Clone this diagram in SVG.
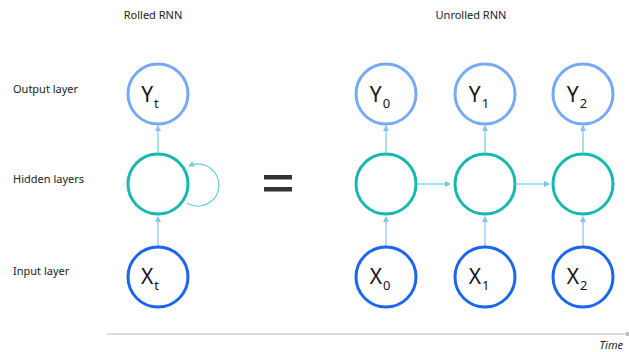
<svg xmlns="http://www.w3.org/2000/svg" width="629" height="352" viewBox="0 0 629 352">
  <style>
    .lbl { font-family: "Noto Sans", "Open Sans", sans-serif; font-size: 11px; fill: #222; }
    .sym { font-family: "Noto Sans", "Open Sans", sans-serif; font-size: 21px; fill: #161616; }
    .sub { font-size: 13px; }
    .out { fill: #fff; stroke: #78a9f4; stroke-width: 3; }
    .hid { fill: #fff; stroke: #16b8b0; stroke-width: 3; }
    .inp { fill: #fff; stroke: #1b66f0; stroke-width: 3; }
    .up1 { stroke: #8cc0f2; stroke-width: 1.2; fill: none; }
    .up2 { stroke: #6ccbdc; stroke-width: 1.2; fill: none; }
    .rt { stroke: #6ccbdc; stroke-width: 1.2; fill: none; }
  </style>
  <defs>
    <marker id="ahB" viewBox="0 0 6 6" refX="5" refY="3" markerWidth="6" markerHeight="6" orient="auto" markerUnits="userSpaceOnUse">
      <path d="M0,0 L6,3 L0,6 z" fill="#8cc0f2"/>
    </marker>
    <marker id="ahT" viewBox="0 0 6 6" refX="5" refY="3" markerWidth="6" markerHeight="6" orient="auto" markerUnits="userSpaceOnUse">
      <path d="M0,0 L6,3 L0,6 z" fill="#6ccbdc"/>
    </marker>
  </defs>

  <!-- headings and row labels -->
  <text class="lbl" x="153" y="19" text-anchor="middle">Rolled RNN</text>
  <text class="lbl" x="471" y="19" text-anchor="middle">Unrolled RNN</text>
  <text class="lbl" x="13" y="93">Output layer</text>
  <text class="lbl" x="13" y="183">Hidden layers</text>
  <text class="lbl" x="13" y="275">Input layer</text>

  <!-- connectors -->
  <g id="connectors">
    <line class="up1" x1="158" y1="246" x2="158" y2="217" marker-end="url(#ahB)"/>
    <line class="up2" x1="158" y1="152" x2="158" y2="126" marker-end="url(#ahB)"/>
    <!-- recurrent self-loop on the rolled hidden unit -->
    <path class="rt" d="M187,203 A21,21 0 1 0 189,166" marker-end="url(#ahT)"/>

    <line class="up1" x1="386" y1="246" x2="386" y2="217" marker-end="url(#ahB)"/>
    <line class="up1" x1="485" y1="246" x2="485" y2="217" marker-end="url(#ahB)"/>
    <line class="up1" x1="583" y1="246" x2="583" y2="217" marker-end="url(#ahB)"/>

    <line class="up2" x1="386" y1="152" x2="386" y2="126" marker-end="url(#ahB)"/>
    <line class="up2" x1="485" y1="152" x2="485" y2="126" marker-end="url(#ahB)"/>
    <line class="up2" x1="583" y1="152" x2="583" y2="126" marker-end="url(#ahB)"/>

    <line class="rt" x1="418" y1="184" x2="450" y2="184" marker-end="url(#ahT)"/>
    <line class="rt" x1="517" y1="184" x2="549" y2="184" marker-end="url(#ahT)"/>
  </g>

  <!-- rolled network -->
  <g id="y_t"><circle class="out" cx="158" cy="94" r="30"/><text class="sym" x="150" y="102" text-anchor="middle">Y<tspan class="sub" dx="1" dy="6">t</tspan></text></g>
  <g id="h_t"><circle class="hid" cx="158" cy="184" r="30"/></g>
  <g id="x_t"><circle class="inp" cx="158" cy="277" r="30"/><text class="sym" x="150" y="284" text-anchor="middle">X<tspan class="sub" dx="1" dy="6">t</tspan></text></g>

  <!-- equals sign -->
  <g id="equals" fill="#333">
    <rect x="264" y="175" width="28" height="4.5"/>
    <rect x="264" y="187" width="28" height="4.5"/>
  </g>

  <!-- unrolled network -->
  <g id="y0"><circle class="out" cx="386" cy="94" r="30"/><text class="sym" x="380" y="102" text-anchor="middle">Y<tspan class="sub" dx="1" dy="6">0</tspan></text></g>
  <g id="y1"><circle class="out" cx="485" cy="94" r="30"/><text class="sym" x="479" y="102" text-anchor="middle">Y<tspan class="sub" dx="1" dy="6">1</tspan></text></g>
  <g id="y2"><circle class="out" cx="583" cy="94" r="30"/><text class="sym" x="577" y="102" text-anchor="middle">Y<tspan class="sub" dx="1" dy="6">2</tspan></text></g>

  <g id="h0"><circle class="hid" cx="386" cy="184" r="30"/></g>
  <g id="h1"><circle class="hid" cx="485" cy="184" r="30"/></g>
  <g id="h2"><circle class="hid" cx="583" cy="184" r="30"/></g>

  <g id="x0"><circle class="inp" cx="386" cy="277" r="30"/><text class="sym" x="380" y="284" text-anchor="middle">X<tspan class="sub" dx="1" dy="6">0</tspan></text></g>
  <g id="x1"><circle class="inp" cx="485" cy="277" r="30"/><text class="sym" x="479" y="284" text-anchor="middle">X<tspan class="sub" dx="1" dy="6">1</tspan></text></g>
  <g id="x2"><circle class="inp" cx="583" cy="277" r="30"/><text class="sym" x="577" y="284" text-anchor="middle">X<tspan class="sub" dx="1" dy="6">2</tspan></text></g>

  <!-- time axis -->
  <g id="time_axis">
    <line x1="107" y1="334" x2="627" y2="334" stroke="#cfcfcf" stroke-width="1.5"/>
    <rect x="626" y="332" width="3" height="4" fill="#bdbdbd"/>
    <text class="lbl" x="623" y="349" text-anchor="end" font-style="italic">Time</text>
  </g>
</svg>
